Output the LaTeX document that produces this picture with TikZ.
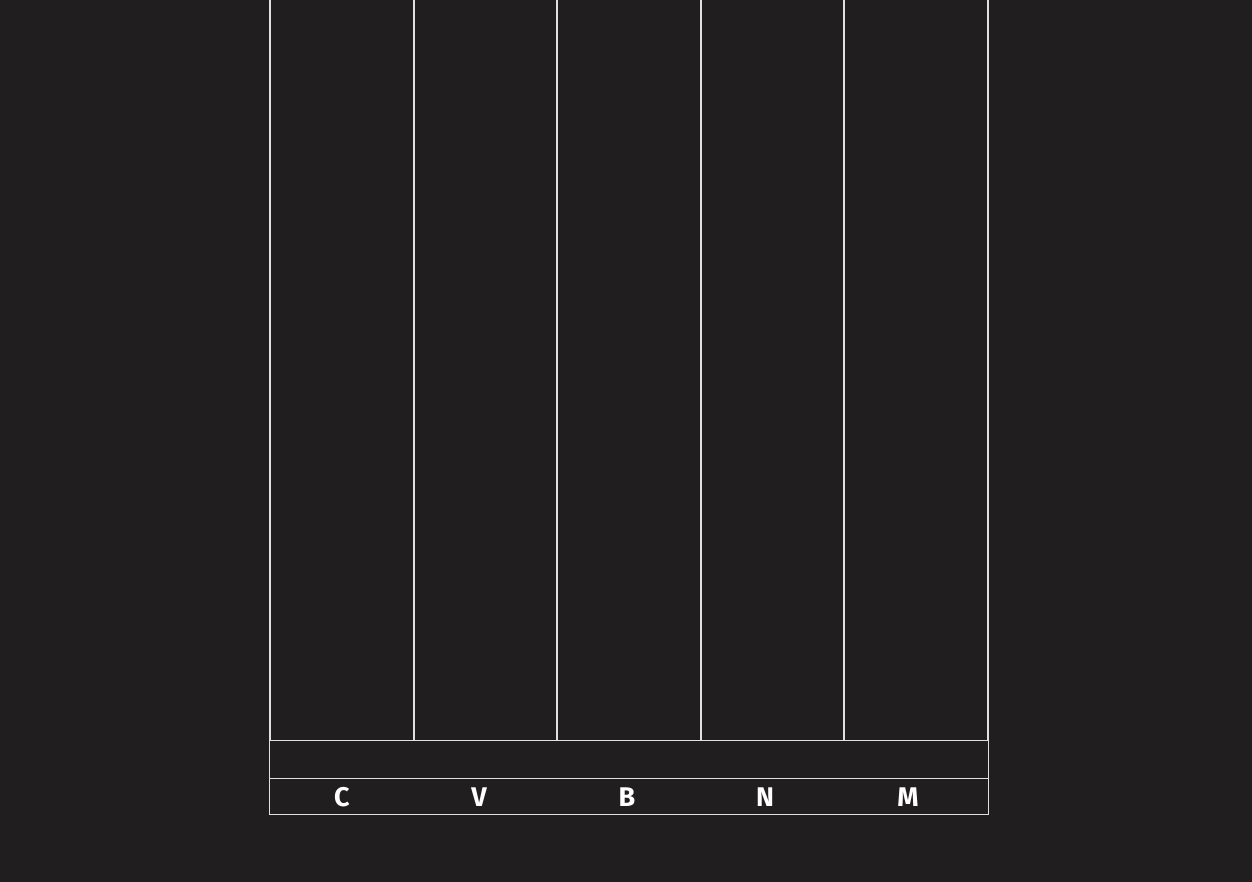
\documentclass[tikz,border=0pt]{standalone}
\usepackage{fontspec}
\setmainfont{Fira Sans}
\definecolor{bg}{HTML}{201E1F}
\definecolor{ln}{HTML}{E0E0E0}
\tikzset{
  gridline/.style={draw=ln, line width=1.3pt},
  keylabel/.style={text=white, font=\fontsize{27}{28}\selectfont\bfseries, inner sep=0pt, anchor=center}
}
\begin{document}
\begin{tikzpicture}[x=1pt,y=-1pt]
\fill[bg] (0,0) rectangle (1252,882);
\useasboundingbox (0,0) rectangle (1252,882);
% columns
\foreach \x in {270,414,557,701,844,988} {
  \draw[gridline] (\x,-2) -- (\x,740.5);
}
% bars
\draw[gridline] (269.5,740.5) rectangle (988.5,778.5);
\draw[gridline] (269.5,778.5) rectangle (988.5,814.5);
% labels
\node[keylabel] (c) at (342,797) {C};
\node[keylabel] (v) at (479,797) {V};
\node[keylabel] (b) at (627,797) {B};
\node[keylabel] (n) at (765,797) {N};
\node[keylabel] (m) at (908,797) {M};
\end{tikzpicture}
\end{document}
